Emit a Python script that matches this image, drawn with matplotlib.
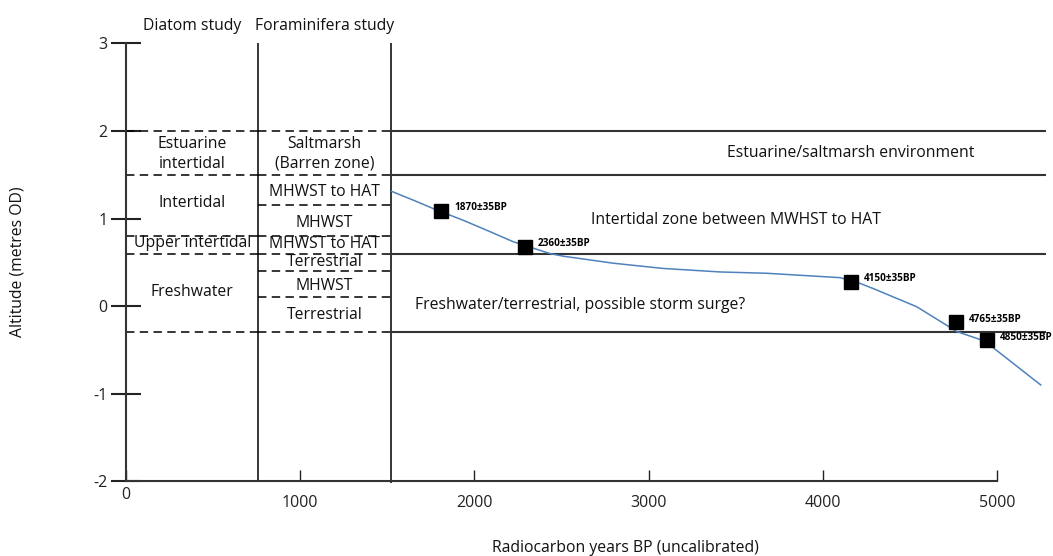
import matplotlib.pyplot as plt
from matplotlib.transforms import ScaledTranslation

plt.rcParams['font.family'] = ['Open Sans', 'DejaVu Sans']

# zone boundaries (metres OD)
diatom_bounds = [2.0, 1.5, 0.8, 0.6, -0.3]
foram_bounds = [2.0, 1.5, 1.15, 0.8, 0.6, 0.4, 0.1, -0.3]
main_bounds = [2.0, 1.5, 0.6, -0.3]
column_edges = [0, 760, 1520]
x_end = 5280

diatom_labels = ['Estuarine\nintertidal', 'Intertidal', 'Upper intertidal', 'Freshwater']
diatom_label_y = [1.74, 1.18, 0.72, 0.16]
foram_labels = ['Saltmarsh\n(Barren zone)', 'MHWST to HAT', 'MHWST', 'MHWST to HAT',
                'Terrestrial', 'MHWST', 'Terrestrial']
foram_label_y = [1.74, 1.30, 0.95, 0.71, 0.50, 0.23, -0.10]

env_labels = ['Estuarine/saltmarsh environment',
              'Intertidal zone between MWHST to HAT',
              'Freshwater/terrestrial, possible storm surge?']
env_x = [4162, 3502, 2606]
env_y = [1.75, 0.98, 0.01]

# sea-level curve
curve_x = [1525, 1649, 1774, 1936, 2090, 2223, 2262, 2434, 2510, 2797, 3084,
           3410, 3678, 4099, 4200, 4290, 4539, 4769, 4930, 5251]
curve_y = [1.31, 1.21, 1.105, 0.98, 0.85, 0.735, 0.71, 0.60, 0.57, 0.49, 0.43,
           0.39, 0.375, 0.325, 0.27, 0.20, -0.007, -0.29, -0.40, -0.90]

# radiocarbon dates
date_x = [1810, 2289, 4160, 4765, 4941]
date_y = [1.09, 0.68, 0.28, -0.185, -0.39]
date_labels = ['1870\u00b135BP', '2360\u00b135BP', '4150\u00b135BP', '4765\u00b135BP', '4850\u00b135BP']

xticks = [0, 1000, 2000, 3000, 4000, 5000]
yticks = [-2, -1, 0, 1, 2, 3]

fig = plt.figure(figsize=(10.53, 5.56), dpi=100)
ax = fig.add_axes([0, 0, 1, 1])
ax.set_xlim(-723.3, 5321.5)
ax.set_ylim(-2.853, 3.495)

for s in ['top', 'right']:
    ax.spines[s].set_visible(False)
ax.spines['left'].set_position(('data', 0))
ax.spines['bottom'].set_position(('data', -2))
ax.spines['left'].set_bounds(-2, 3)
ax.spines['bottom'].set_bounds(0, 5000)
for s in ['left', 'bottom']:
    ax.spines[s].set_linewidth(1.5)
    ax.spines[s].set_color('#333333')

ax.set_yticks(yticks)
ax.set_yticklabels([str(v) for v in yticks])
ax.tick_params(axis='y', direction='inout', length=21, width=1.5, pad=3,
               labelsize=11.5, colors='#222222')
ax.set_xticks(xticks)
ax.set_xticklabels([str(v) for v in xticks])
ax.tick_params(axis='x', direction='in', length=8, width=1.0, pad=10,
               labelsize=11.5, colors='#222222')
lab0 = ax.get_xticklabels()[0]
lab0.set_transform(lab0.get_transform() + ScaledTranslation(0, 6 / 72, fig.dpi_scale_trans))

# column dividers
ax.vlines(column_edges[1], -2, 3, color='black', lw=1.1)
ax.vlines(column_edges[2], -2.02, 3, color='black', lw=1.1)

dash = (0, (5.5, 3.5))
ax.hlines(diatom_bounds, column_edges[0], column_edges[1], colors='black', lw=1.1, linestyles=dash)
ax.hlines(foram_bounds, column_edges[1], column_edges[2], colors='black', lw=1.1, linestyles=dash)
ax.hlines(main_bounds, column_edges[2], x_end, colors='#333333', lw=1.5)

txt = dict(fontsize=11.3, ha='center', va='center', color='#111111')
ax.text(380, 3.2, 'Diatom study', **txt)
ax.text(1140, 3.2, 'Foraminifera study', **txt)
for lab, y in zip(diatom_labels, diatom_label_y):
    ax.text(380, y, lab, linespacing=1.3, **txt)
for lab, y in zip(foram_labels, foram_label_y):
    ax.text(1140, y, lab, linespacing=1.3, **txt)
for lab, x, y in zip(env_labels, env_x, env_y):
    ax.text(x, y, lab, **txt)

ax.plot(curve_x, curve_y, color='#4f81bd', lw=1.1)
ax.plot(date_x, date_y, 's', color='black', markersize=9.5)
for lab, x, y in zip(date_labels, date_x, date_y):
    ax.annotate(lab, (x, y), xytext=(13, 3), textcoords='offset pixels',
                fontsize=7.2, fontweight='bold', va='center', ha='left')

fig.text(625 / 1053, 1 - 548 / 556, 'Radiocarbon years BP (uncalibrated)',
         fontsize=11.3, ha='center', va='center', color='#111111')
fig.text(18 / 1053, 1 - 262 / 556, 'Altitude (metres OD)', rotation=90,
         fontsize=11.3, ha='center', va='center', color='#111111')

fig.savefig('out.png', dpi=100)
